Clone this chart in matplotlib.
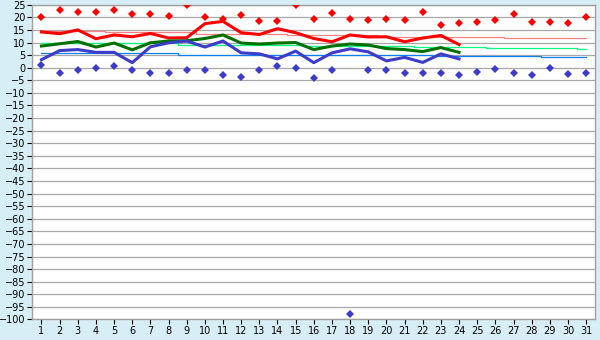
import matplotlib
matplotlib.use("Agg")
import matplotlib.pyplot as plt
import numpy as np

days = list(range(1, 32))
obs_days = list(range(1, 25))

tmax = [14.2, 13.5, 15.0, 11.5, 13.0, 12.3, 13.6, 11.8, 11.9, 17.5, 18.4, 13.9,
        13.2, 15.5, 13.9, 11.6, 10.3, 13.0, 12.2, 12.3, 10.3, 11.8, 12.8, 9.2]
tmean = [8.6, 9.5, 10.4, 8.2, 9.8, 7.1, 9.9, 10.6, 10.7, 11.6, 13.0, 9.8,
         9.4, 9.8, 10.0, 7.2, 8.6, 9.4, 9.0, 7.6, 7.2, 6.4, 8.0, 6.1]
tmin = [3.2, 6.8, 7.2, 6.1, 6.1, 2.0, 8.3, 9.9, 10.6, 8.2, 10.6, 5.9,
        5.5, 3.5, 6.6, 2.0, 5.9, 7.5, 6.3, 2.7, 4.1, 2.1, 5.5, 3.5]

rec_max = [20.1, 23.0, 22.2, 22.2, 23.0, 21.3, 21.3, 20.5, 25.1, 20.1, 19.2, 20.9,
           18.7, 18.7, 25.1, 19.2, 21.8, 19.2, 18.8, 19.2, 18.8, 22.2, 17.0, 17.8,
           18.2, 18.8, 21.3, 18.2, 18.2, 17.8, 20.0]
rec_min = [1.1, -2.1, -0.9, -0.1, 0.7, -0.9, -2.1, -2.1, -0.9, -0.9, -2.9, -3.7,
           -0.9, 0.7, -0.1, -4.1, -0.9, -98.0, -0.9, -0.9, -2.1, -2.1, -2.1, -2.9,
           -1.7, -0.5, -2.1, -2.9, -0.1, -2.5, -2.1]

norm_max = [14.4] * 4 + [14.0] * 5 + [13.5] * 5 + [13.0] * 5 + [12.3] * 7 + [11.8] * 5
norm_mean = [9.8] * 8 + [9.2] * 7 + [8.8] * 6 + [8.2] * 4 + [7.8] * 5 + [7.4] * 1
norm_min = [5.8] * 8 + [5.2] * 14 + [4.8] * 6 + [4.3] * 3

yticks = list(range(-100, 30, 5))

bg = '#d8eef6'
fig = plt.figure(figsize=(6, 3.4), dpi=100, facecolor=bg)
ax = fig.add_axes([0.054, 0.0603, 0.938, 0.9257])
ax.set_facecolor('white')

for y in yticks:
    ax.axhline(y, color='#a8a8a8', lw=0.9, zorder=1)

ax.plot(days, norm_max, color='#ff8080', lw=0.9, drawstyle='steps-mid', zorder=2)
ax.plot(days, norm_mean, color='#00ff80', lw=0.9, drawstyle='steps-mid', zorder=2)
ax.plot(days, norm_min, color='#0a80f0', lw=0.9, drawstyle='steps-mid', zorder=2)

ax.plot(obs_days, tmax, color='#ff0000', lw=2.2, zorder=4)
ax.plot(obs_days, tmean, color='#007000', lw=2.2, zorder=4)
ax.plot(obs_days, tmin, color='#3c3cc8', lw=2.2, zorder=4)

ax.plot(days, rec_max, ls='none', marker='D', ms=4, color='#ff0000', mew=0, zorder=5)
ax.plot(days, rec_min, ls='none', marker='D', ms=4, color='#3c3cc8', mew=0, zorder=5)

ax.set_xlim(0.5, 31.5)
ax.set_ylim(-100, 25)
ax.set_xticks(days)
ax.set_xticklabels([str(d) for d in days])
ax.set_yticks(yticks)
ax.set_yticklabels([str(y).replace('-', '\u2212') for y in yticks])
ax.tick_params(axis='both', labelsize=7, length=3.5, width=0.8, color='black',
               pad=1.5, direction='out')
for s in ax.spines.values():
    s.set_color('#a0a0a0')
    s.set_linewidth(1.0)

fig.savefig('out.png', dpi=100, facecolor=bg)
